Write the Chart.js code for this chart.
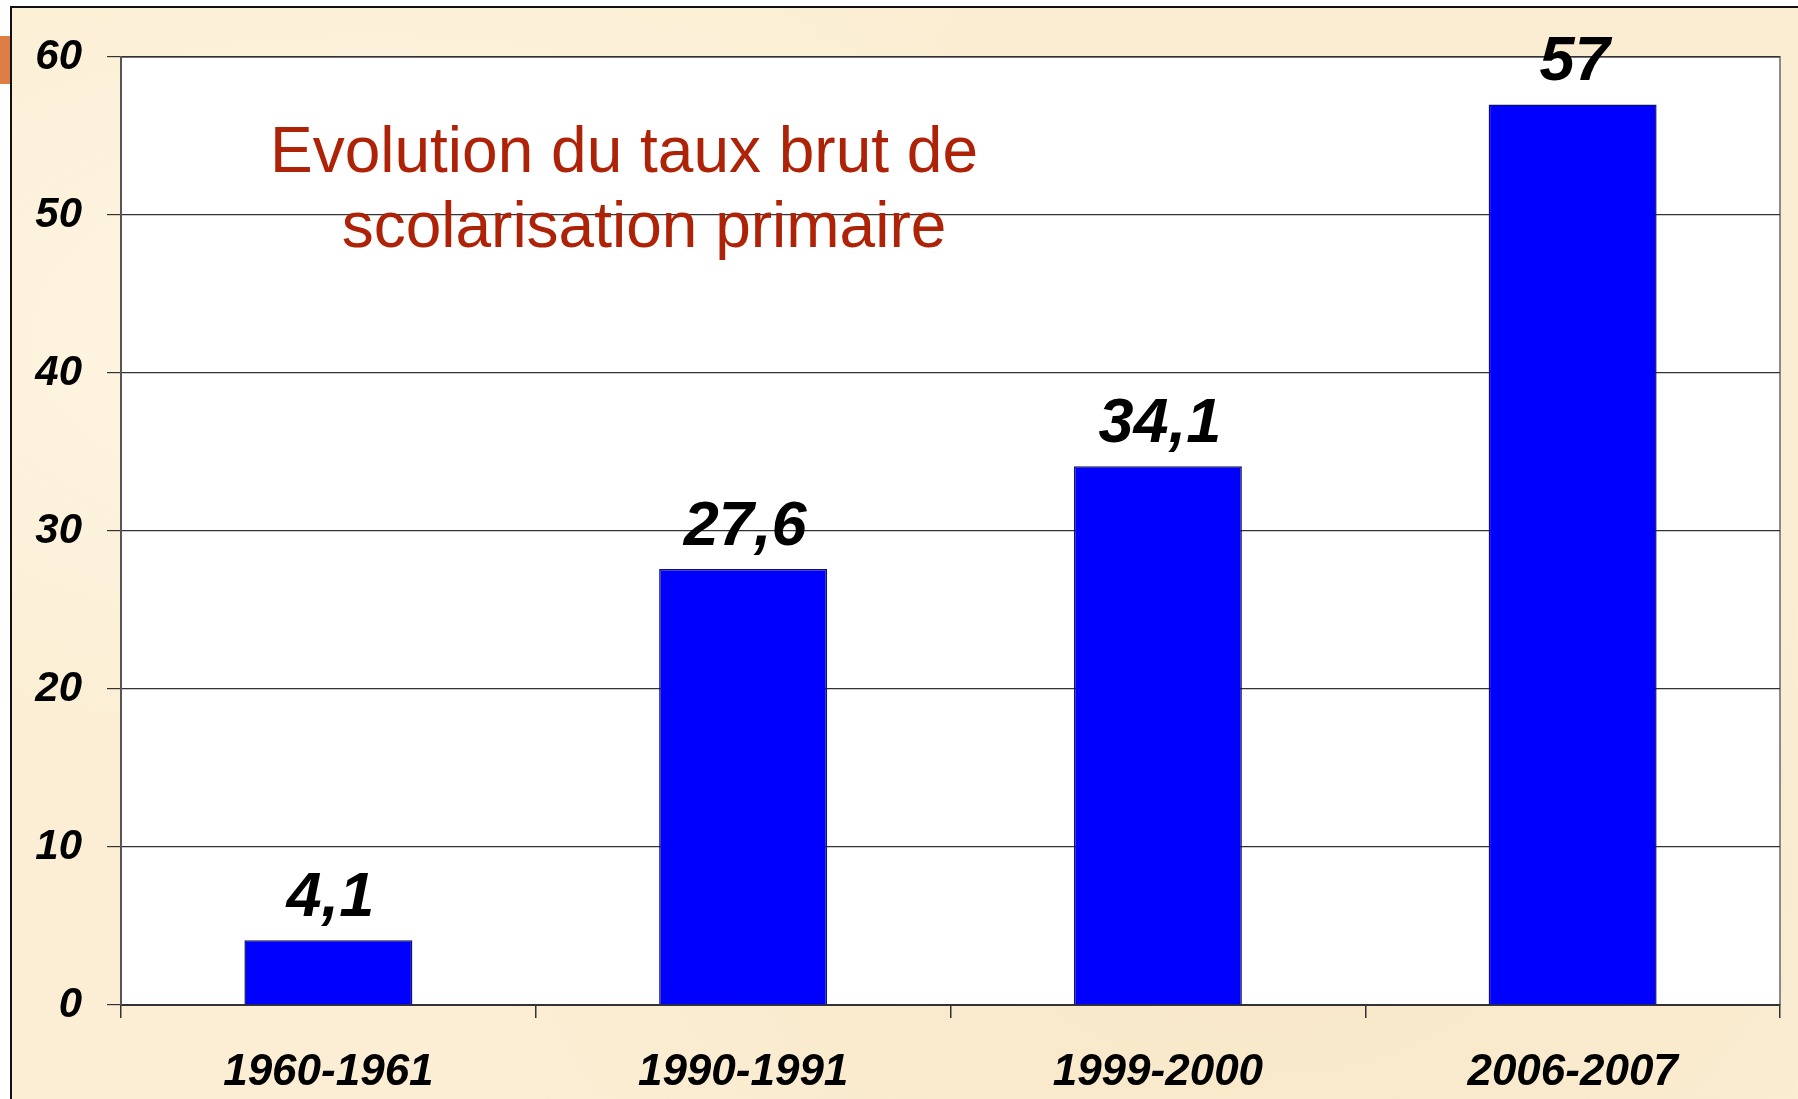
<!DOCTYPE html>
<html>
<head>
<meta charset="utf-8">
<script src="https://cdn.jsdelivr.net/npm/chart.js@4.4.1/dist/chart.umd.min.js"></script>
<style>
  html, body { margin:0; padding:0; width:1798px; height:1099px; overflow:hidden; background:#ffffff; }
  #frame {
    position:absolute; left:10px; top:6px; width:1788px; height:1093px;
    border-top:2px solid #111; border-left:2px solid #111;
    background:
      radial-gradient(ellipse at 20% 30%, rgba(255,248,232,0.8), rgba(255,248,232,0) 40%),
      radial-gradient(ellipse at 70% 80%, rgba(246,226,190,0.6), rgba(246,226,190,0) 45%),
      radial-gradient(ellipse at 85% 15%, rgba(250,235,205,0.7), rgba(250,235,205,0) 40%),
      #FBEED4;
  }
  #tab { position:absolute; left:0; top:36px; width:10px; height:48px; background:#DE7E45; }
  #wrap { position:absolute; left:0; top:0; width:1798px; height:1099px; }
</style>
</head>
<body>
<div id="frame"></div>
<div id="tab"></div>
<div id="wrap"><canvas id="c" width="1798" height="1099"></canvas></div>
<script>
const categories = ["1960-1961", "1990-1991", "1999-2000", "2006-2007"];
const values = [4.1, 27.6, 34.1, 57];
const yTicks = [0, 10, 20, 30, 40, 50, 60];
const titleLines = ["Evolution du taux brut de", "scolarisation primaire"];

const FONT = '"Liberation Sans", Arial, sans-serif';

const plotBg = {
  id: 'plotBg',
  beforeDraw(chart) {
    const {ctx, chartArea:a} = chart;
    ctx.save();
    ctx.fillStyle = '#ffffff';
    ctx.fillRect(a.left, a.top, a.right - a.left, a.bottom - a.top);
    ctx.strokeStyle = '#8a8a8a';
    ctx.lineWidth = 2;
    ctx.beginPath();
    ctx.moveTo(a.left, a.top);
    ctx.lineTo(a.right, a.top);
    ctx.lineTo(a.right, a.bottom);
    ctx.stroke();
    ctx.restore();
  }
};

const labelsPlugin = {
  id: 'valueLabels',
  afterDatasetsDraw(chart) {
    const {ctx, chartArea:a} = chart;
    ctx.save();
    // title
    ctx.fillStyle = '#AE2208';
    ctx.font = '64px ' + FONT;
    ctx.textAlign = 'center';
    ctx.textBaseline = 'alphabetic';
    ctx.fillText(titleLines[0], a.left + 503, a.top + 115);
    ctx.fillText(titleLines[1], a.left + 523, a.top + 190);
    // value labels
    ctx.fillStyle = '#000000';
    ctx.font = 'italic bold 63px ' + FONT;
    const meta = chart.getDatasetMeta(0);
    meta.data.forEach((bar, i) => {
      const txt = String(values[i]).replace('.', ',');
      ctx.fillText(txt, bar.x + 2, bar.y - 24);
    });
    ctx.restore();
  }
};

new Chart(document.getElementById('c'), {
  type: 'bar',
  data: {
    labels: categories,
    datasets: [{
      data: values,
      backgroundColor: '#0000FF',
      borderColor: '#10106a',
      borderWidth: 1.5,
      borderSkipped: 'bottom',
      categoryPercentage: 1.0,
      barPercentage: 0.405
    }]
  },
  options: {
    responsive: false,
    animation: false,
    devicePixelRatio: 1,
    layout: { padding: { top: 57, right: 18, left: 0, bottom: 0 } },
    plugins: { legend: { display: false }, title: { display: false }, tooltip: { enabled: false } },
    scales: {
      x: {
        afterFit: (s) => { s.height = 94; },
        grid: { offset: true, drawOnChartArea: false, drawTicks: true, tickLength: 13, color: '#333', lineWidth: 1.5 },
        border: { display: true, color: '#333', width: 2 },
        ticks: { color: '#000', padding: 28, font: { family: FONT, size: 44, style: 'italic', weight: 'bold' } }
      },
      y: {
        min: 0, max: 60,
        afterFit: (s) => { s.width = 121; },
        afterBuildTicks: (s) => { s.ticks = yTicks.map(v => ({ value: v })); },
        grid: { color: '#333', lineWidth: 1.2, drawTicks: true, tickLength: 14 },
        border: { display: true, color: '#555', width: 2 },
        ticks: { color: '#000', padding: 25, font: { family: FONT, size: 42, style: 'italic', weight: 'bold' } }
      }
    }
  },
  plugins: [plotBg, labelsPlugin]
});
</script>
</body>
</html>
